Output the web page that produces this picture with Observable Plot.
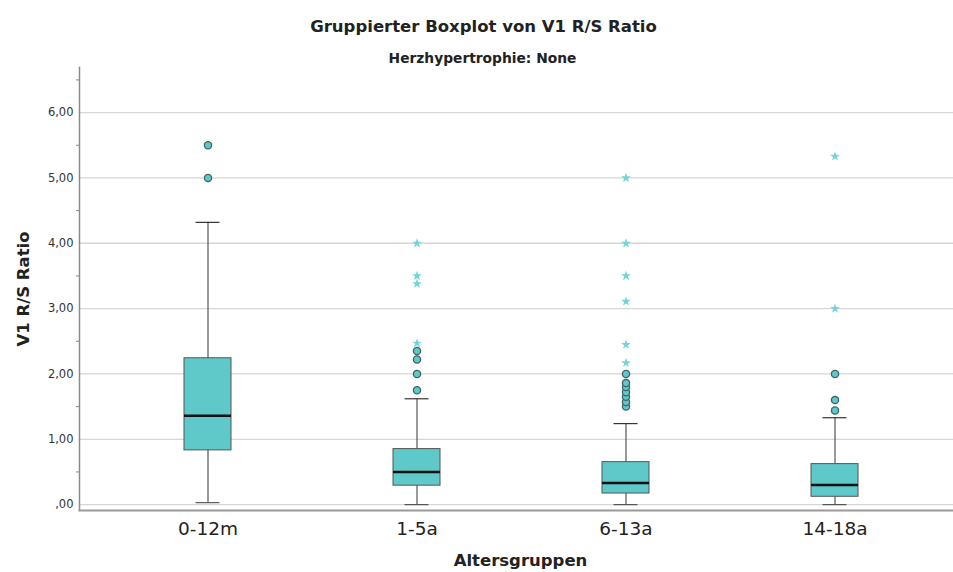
<!DOCTYPE html>
<html><head><meta charset="utf-8">
<script src="https://cdn.jsdelivr.net/npm/d3@7"></script>
<script src="https://cdn.jsdelivr.net/npm/@observablehq/plot@0.6"></script>
<style>body{margin:0;background:#fff} svg{display:block}</style>
</head><body><div id="chart"></div>
<script>
const titleText = "Gruppierter Boxplot von V1 R/S Ratio";
const subtitleText = "Herzhypertrophie: None";
const xLabel = "Altersgruppen";
const yLabel = "V1 R/S Ratio";

const categories = ["0-12m", "1-5a", "6-13a", "14-18a"];
const q1 = [0.83, 0.29, 0.17, 0.12];
const median = [1.36, 0.50, 0.33, 0.30];
const q3 = [2.24, 0.85, 0.65, 0.62];
const whiskerLow = [0.03, 0.0, 0.0, 0.0];
const whiskerHigh = [4.32, 1.62, 1.24, 1.33];
// circles = outliers, stars = extreme values
const outlierCircles = [
  [5.0, 5.5],
  [1.75, 2.0, 2.22, 2.35],
  [1.5, 1.57, 1.65, 1.72, 1.8, 1.86, 2.0],
  [1.44, 1.6, 2.0]
];
const extremeStars = [
  [],
  [2.47, 3.38, 3.5, 4.0],
  [2.17, 2.45, 3.11, 3.5, 4.0, 5.0],
  [3.0, 5.33]
];
const yTicks = [0, 1, 2, 3, 4, 5, 6];
const yMinorTicks = [0.5, 1.5, 2.5, 3.5, 4.5, 5.5, 6.5];

const boxes = categories.map((c, i) => ({group: c, q1: q1[i], median: median[i], q3: q3[i], lo: whiskerLow[i], hi: whiskerHigh[i]}));
const circles = categories.flatMap((c, i) => outlierCircles[i].map(v => ({group: c, value: v})));
const stars = categories.flatMap((c, i) => extremeStars[i].map(v => ({group: c, value: v})));
const fmt = d => (d === 0 ? "" : String(d)) + ",00";

const boxFill = "#5fc8c8";
const chart = Plot.plot({
  width: 953, height: 572,
  marginLeft: 79, marginRight: 0, marginTop: 67, marginBottom: 62,
  style: {fontFamily: "DejaVu Sans", background: "#fff", overflow: "visible"},
  x: {type: "band", domain: categories, paddingInner: 0.775, paddingOuter: 0.478, align: 0.5275},
  y: {domain: [-0.09, 6.69]},
  marks: [
    Plot.gridY(yTicks, {stroke: "#d6d6d6", strokeOpacity: 1, strokeWidth: 1.3}),
    Plot.frame({anchor: "left", stroke: "#8a8a8a", strokeWidth: 1.5}),
    Plot.frame({anchor: "bottom", stroke: "#9a9a9a", strokeWidth: 2}),
    Plot.axisY({ticks: yTicks, tickSize: 0, tickPadding: 6, tickFormat: fmt, fontSize: 11.5, fill: "#333", label: null}),
    Plot.axisY({ticks: yMinorTicks, tickSize: 3, tickFormat: () => "", label: null, stroke: "#888"}),
    Plot.axisX({tickSize: 0, tickPadding: 11, fontSize: 18.5, fill: "#222", label: null}),
    Plot.ruleX(boxes, {x: "group", y1: "lo", y2: "hi", stroke: "#555", strokeWidth: 1.2}),
    Plot.tickY(boxes, {x: "group", y: "lo", insetLeft: 11.5, insetRight: 11.5, stroke: "#555", strokeWidth: 1.2}),
    Plot.tickY(boxes, {x: "group", y: "hi", insetLeft: 11.5, insetRight: 11.5, stroke: "#333", strokeWidth: 1.2}),
    Plot.barY(boxes, {x: "group", y1: "q1", y2: "q3", fill: boxFill, stroke: "#555", strokeWidth: 1}),
    Plot.tickY(boxes, {x: "group", y: "median", stroke: "#111", strokeWidth: 2.6}),
    Plot.dot(circles, {x: "group", y: "value", r: 3.6, fill: boxFill, stroke: "#3f6465", strokeWidth: 1.3}),
    Plot.dot(stars, {x: "group", y: "value", symbol: "star", r: 3.1, fill: "#72d5dc", stroke: "none"}),
    Plot.text([titleText], {text: d => d, frameAnchor: "top", dx: -33, dy: -36, lineAnchor: "bottom", fontSize: 16.5, fontWeight: "bold", fill: "#222"}),
    Plot.text([subtitleText], {text: d => d, frameAnchor: "top", dx: -34, dy: -5, lineAnchor: "bottom", fontSize: 13.8, fontWeight: "bold", fill: "#222"}),
    Plot.text([xLabel], {text: d => d, frameAnchor: "bottom", dx: 4, dy: 55, lineAnchor: "bottom", fontSize: 16.5, fontWeight: "bold", fill: "#222"}),
    Plot.text([yLabel], {text: d => d, frameAnchor: "left", textAnchor: "middle", dx: -51, dy: 0, rotate: -90, lineAnchor: "bottom", fontSize: 16.5, fontWeight: "bold", fill: "#222"})
  ]
});
document.getElementById("chart").appendChild(chart);
</script>
</body></html>
